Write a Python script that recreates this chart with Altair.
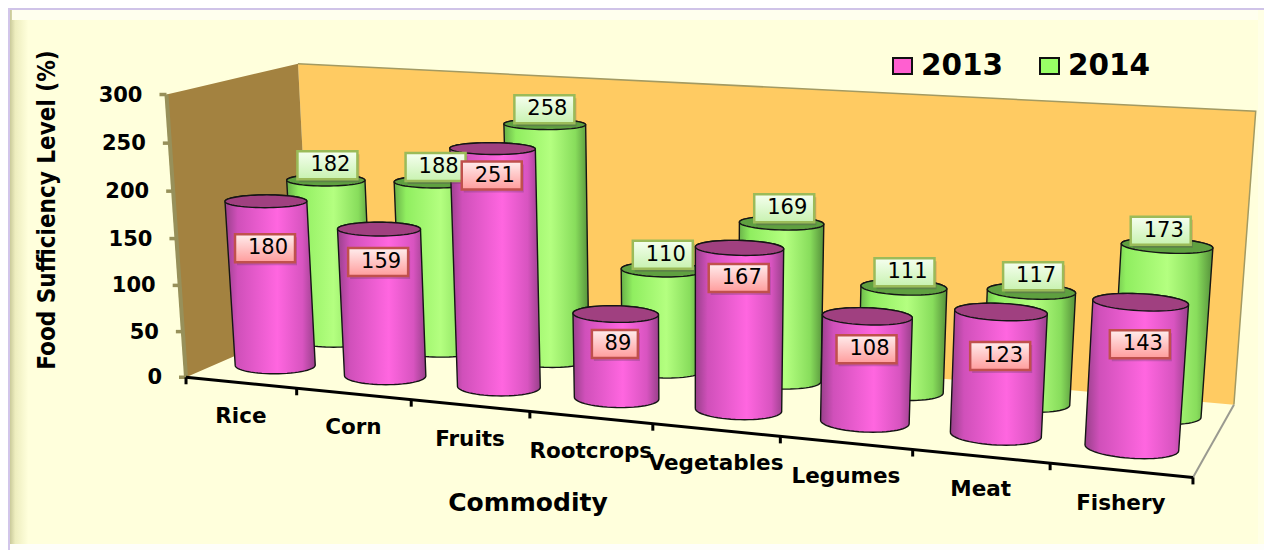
import altair as alt
import numpy as np
import pandas as pd

# ---------- values ----------
CATEGORIES = ["Rice", "Corn", "Fruits", "Rootcrops", "Vegetables", "Legumes", "Meat", "Fishery"]
VALUES_2013 = [180, 159, 251, 89, 167, 108, 123, 143]
VALUES_2014 = [182, 188, 258, 110, 169, 111, 117, 173]
Y_TICKS = [0, 50, 100, 150, 200, 250, 300]
SERIES = ["2013", "2014"]
Y_TITLE = "Food Sufficiency Level (%)"
X_TITLE = "Commodity"

# ---------- perspective camera of the 3-D box, calibrated on the box corners ----------
# (category units, depth 0..1, value) -> page pixels
calib = [
    (0, 0, 0, 186, 376), (1, 0, 0, 297, 388), (2, 0, 0, 412, 400), (3, 0, 0, 530, 413),
    (4, 0, 0, 653, 425), (5, 0, 0, 780, 438), (6, 0, 0, 912, 451), (7, 0, 0, 1050, 463),
    (8, 0, 0, 1193, 475), (0, 1, 0, 312, 322), (8, 1, 0, 1234, 404),
    (0, 1, 300, 297, 65), (8, 1, 300, 1256, 111), (0, 0, 300, 168, 94),
    (0, 0, 200, 173, 191), (0, 0, 100, 178, 284),
]
A = []
for u, d, h, px, py in calib:
    w = [u, d, h / 100, 1]
    px, py = px / 1000, py / 1000
    A.append(w + [0, 0, 0, 0] + [-px * c for c in w])
    A.append([0, 0, 0, 0] + w + [-py * c for c in w])
P = np.linalg.svd(np.array(A))[2][-1].reshape(3, 4)


def project(u, d, h):
    u = np.asarray(u, dtype=float)
    d = np.asarray(d, dtype=float)
    h = np.asarray(h, dtype=float)
    v = P @ np.array([u, d, h / 100, np.ones_like(u)], dtype=float)
    return v[0] / v[2] * 1000, v[1] / v[2] * 1000


XS = alt.Scale(domain=[8, 1264], nice=False, zero=False)
YS = alt.Scale(domain=[550, 8], nice=False, zero=False)
X = alt.X("x:Q", scale=XS, axis=None)
Y = alt.Y("y:Q", scale=YS, axis=None)


def hull(pts):
    pts = sorted(set((round(a, 2), round(b, 2)) for a, b in pts))
    def half(seq):
        out = []
        for p in seq:
            while len(out) > 1 and (out[-1][0]-out[-2][0])*(p[1]-out[-2][1]) - (out[-1][1]-out[-2][1])*(p[0]-out[-2][0]) <= 0:
                out.pop()
            out.append(p)
        return out
    low, up = half(pts), half(pts[::-1])
    return low[:-1] + up[:-1]


def fill_layer(poly, fill, opacity=1):
    h = hull(poly)
    n = h.index(min(h))
    h = h[n:] + h[:n]
    xs = sorted(p[0] for p in h)
    k = h.index(max(h))
    a, b = h[:k + 1], (h[k:] + h[:1])[::-1]
    ya = np.interp(xs, [p[0] for p in a], [p[1] for p in a])
    yb = np.interp(xs, [p[0] for p in b], [p[1] for p in b])
    df = pd.DataFrame({"x": xs, "y": np.minimum(ya, yb), "y2": np.maximum(ya, yb)})
    return alt.Chart(df).mark_area(color=fill, opacity=opacity, line=False).encode(x=X, y=Y, y2="y2:Q")


def path_layer(poly, color, width, close=False):
    pts = list(poly) + ([poly[0]] if close else [])
    df = pd.DataFrame({"x": [p[0] for p in pts], "y": [p[1] for p in pts], "o": range(len(pts))})
    return alt.Chart(df).mark_line(color=color, strokeWidth=width).encode(x=X, y=Y, order="o:Q")


def band(x0, x1, y0, y1, fill):
    df = pd.DataFrame({"x": [x0], "x2": [x1], "y": [y0], "y2": [y1]})
    return alt.Chart(df).mark_rect(color=fill).encode(x=X, x2="x2:Q", y=Y, y2="y2:Q")


def grad(stops, vertical=False):
    s = [alt.GradientStop(offset=o, color=c) for o, c in stops]
    if vertical:
        return alt.LinearGradient(gradient="linear", x1=0, x2=0, y1=0, y2=1, stops=s)
    return alt.LinearGradient(gradient="linear", x1=0, x2=1, y1=0, y2=0, stops=s)


layers = []
# ---------- frame ----------
layers.append(band(8, 32, 8, 550, grad([(0, "#FFFFF0"), (0.08, "#C9C99A"), (0.3, "#EDEDBE"), (0.85, "#FFFFDC"), (1, "#FFFFDC")])))
layers.append(band(8, 1264, 8, 10, "#CFC3E8"))
layers.append(band(12, 1260, 10, 20, "#FFFFEE"))
layers.append(band(1258, 1264, 10, 545, "#FFFFE6"))
layers.append(band(8, 1264, 544, 550, "#FEFEFA"))
layers.append(band(8, 10, 8, 550, "#D2C6EA"))


def pr(u, d, h):
    return tuple(float(c) for c in project(u, d, h))


# ---------- walls ----------
fl, fr, bl, br = pr(0, 0, 0), pr(8, 0, 0), pr(0, 1, 0), pr(8, 1, 0)
tfl, tbl, tbr = pr(0, 0, 300), pr(0, 1, 300), pr(8, 1, 300)
layers.append(fill_layer([tbl, tbr, br, bl], "#FFCB62"))
layers.append(path_layer([tbl, tbr, br], "#A39A62", 1.5))
layers.append(fill_layer([tfl, tbl, bl, fl], "#A38240"))
layers.append(path_layer([br, fr], "#9A9A90", 2))

# y axis
layers.append(path_layer([tfl, fl], "#97905A", 4))
tick_rows = []
for t in Y_TICKS:
    ax, ay = pr(0, 0, t)
    layers.append(path_layer([(ax - 7, ay), (ax, ay)], "#97905A", 3.5))
    tick_rows.append({"x": ax - 24, "y": ay + 1, "t": str(t)})
# x axis
layers.append(path_layer([fl, fr], "#000000", 3))
for i in range(len(CATEGORIES) + 1):
    ax, ay = pr(i, 0, 0)
    layers.append(path_layer([(ax, ay), (ax, ay + 7)], "#000000", 3))

# ---------- cylinders ----------
MAGENTA = dict(
    body=grad([(0, "#98408A"), (0.14, "#D050BA"), (0.58, "#FF66E0"), (0.86, "#D854C0"), (1, "#98408A")]),
    cap="#A04080", swatch="#FF5FD0",
)
GREEN = dict(
    body=grad([(0, "#68B048"), (0.14, "#90EE60"), (0.55, "#B4FF80"), (0.84, "#88DD5C"), (1, "#55903A")]),
    cap="#5FA040", swatch="#99FF66",
)
RADIUS_U, RADIUS_D = 0.335, 0.135
theta = np.linspace(0, 2 * np.pi, 61)


def cylinder(i, shift, depth, value, style):
    cu = i + 0.5 + shift + RADIUS_U * np.cos(theta)
    cd = depth + RADIUS_D * np.sin(theta)
    bx, by = project(cu, cd, np.zeros_like(cu))
    tx, ty = project(cu, cd, np.full_like(cu, value))
    bottom = list(zip(bx.tolist(), by.tolist()))
    top = list(zip(tx.tolist(), ty.tolist()))
    sil = hull(bottom + top)
    out = [fill_layer(bottom + top, style["body"]),
           path_layer(sil, "#151515", 1.4, close=True),
           fill_layer(top, style["cap"]),
           path_layer(top, "#151515", 1.4)]
    return out, float(np.mean(tx)), float(np.mean(ty))


back, front = [], []
for i, v in enumerate(VALUES_2014):
    ls, cx, cy = cylinder(i, -0.015, 0.76, v, GREEN)
    layers += ls
    back.append((cx, cy))
for i, v in enumerate(VALUES_2013):
    ls, cx, cy = cylinder(i, -0.03, 0.29, v, MAGENTA)
    layers += ls
    front.append((cx, cy))

# ---------- value boxes ----------
FRONT_DROP = [47, 33, 27, 30, 30, 33, 44, 42]
BACK_NUDGE_X = [1, 1, -1, 0, 2, 0, 1, -7]
boxes_f = pd.DataFrame([
    {"x": c[0] - 1.5, "y": c[1] + dr, "t": str(v)} for c, v, dr in zip(front, VALUES_2013, FRONT_DROP)
])
boxes_b = pd.DataFrame([
    {"x": c[0] + nx, "y": c[1] - 15, "t": str(v)} for c, v, nx in zip(back, VALUES_2014, BACK_NUDGE_X)
])
for df, stroke, stops in (
    (boxes_b, "#9BBB59", [(0, "#F6FFF0"), (1, "#C8F2B0")]),
    (boxes_f, "#C0504D", [(0, "#FFEDED"), (1, "#FF9C9C")]),
):
    df["hw"] = df["t"].str.len().map({2: 23, 3: 30})
    df["x0"], df["x1"] = df["x"] - df["hw"], df["x"] + df["hw"]
    df["y0"], df["y1"] = df["y"] - 14, df["y"] + 14
    shadow = df.assign(x0=df["x0"] + 2, x1=df["x1"] + 2, y0=df["y0"] + 3, y1=df["y1"] + 3)
    layers.append(alt.Chart(shadow).mark_rect(color="#5A3A5A", opacity=0.28).encode(
        x=alt.X("x0:Q", scale=XS, axis=None), x2="x1:Q", y=alt.Y("y0:Q", scale=YS, axis=None), y2="y1:Q"))
    layers.append(alt.Chart(df).mark_rect(color=grad(stops, vertical=True), stroke=stroke, strokeWidth=2.5).encode(
        x=alt.X("x0:Q", scale=XS, axis=None), x2="x1:Q", y=alt.Y("y0:Q", scale=YS, axis=None), y2="y1:Q"))
    layers.append(alt.Chart(df).mark_text(font="DejaVu Sans", fontSize=21, color="#000000", dx=3).encode(x=X, y=Y, text="t:N"))

# ---------- texts ----------
bold = dict(font="DejaVu Sans", fontWeight="bold", color="#000000")
layers.append(alt.Chart(pd.DataFrame(tick_rows)).mark_text(fontSize=21, align="right", **bold).encode(x=X, y=Y, text="t:N"))
cat_rows = []
for i, c in enumerate(CATEGORIES):
    ax, ay = pr(i + 0.5, 0, 0)
    cat_rows.append({"x": ax, "y": ay + 34, "t": c})
layers.append(alt.Chart(pd.DataFrame(cat_rows)).mark_text(fontSize=21.5, **bold).encode(x=X, y=Y, text="t:N"))
layers.append(alt.Chart(pd.DataFrame([{"x": 528, "y": 503, "t": X_TITLE}])).mark_text(fontSize=25, **bold).encode(x=X, y=Y, text="t:N"))
layers.append(alt.Chart(pd.DataFrame([{"x": 48, "y": 210, "t": Y_TITLE}])).mark_text(
    fontSize=24, angle=270, font="DejaVu Sans Condensed", fontWeight="bold", color="#000000").encode(x=X, y=Y, text="t:N"))

# ---------- legend ----------
for x0, s, style in ((893, SERIES[0], MAGENTA), (1040, SERIES[1], GREEN)):
    df = pd.DataFrame([{"x": x0, "x2": x0 + 19, "y": 58, "y2": 74}])
    layers.append(alt.Chart(df).mark_rect(color=style["swatch"], stroke="#111111", strokeWidth=2).encode(x=X, x2="x2:Q", y=Y, y2="y2:Q"))
    layers.append(alt.Chart(pd.DataFrame([{"x": x0 + 28, "y": 66, "t": s}])).mark_text(
        fontSize=29.5, align="left", **bold).encode(x=X, y=Y, text="t:N"))

chart = alt.layer(*layers).properties(
    width=1256, height=542, padding=0, background="#FFFFDC"
).configure_view(stroke=None)

chart.save("out.html", embed_options={"renderer": "svg", "actions": False})
